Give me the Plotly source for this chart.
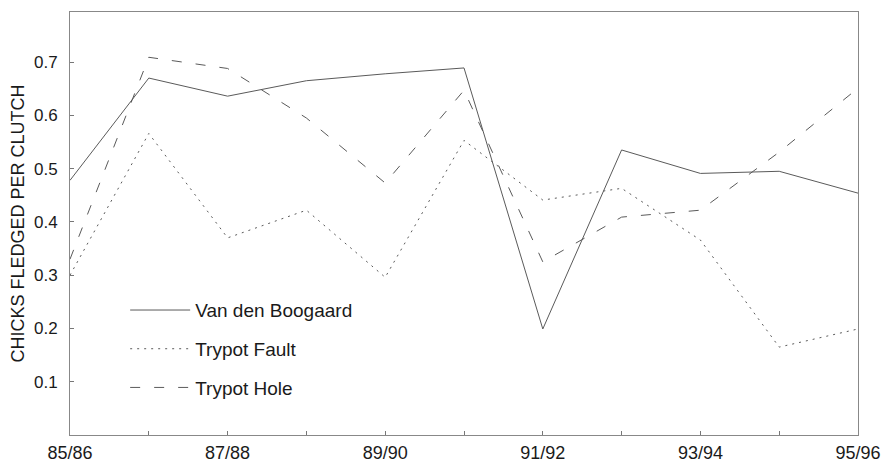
import plotly.graph_objects as go

seasons = ["85/86", "86/87", "87/88", "88/89", "89/90", "90/91",
           "91/92", "92/93", "93/94", "94/95", "95/96"]
van_den_boogaard = [0.478, 0.670, 0.636, 0.665, 0.678, 0.689,
                    0.199, 0.535, 0.491, 0.495, 0.454]
trypot_fault = [0.300, 0.566, 0.370, 0.422, 0.296, 0.553,
                0.441, 0.463, 0.366, 0.165, 0.199]
trypot_hole = [0.330, 0.709, 0.688, 0.595, 0.473, 0.647,
               0.325, 0.409, 0.422, 0.531, 0.651]
y_ticks = [0.1, 0.2, 0.3, 0.4, 0.5, 0.6, 0.7]

FONT = "Liberation Sans, Arial, sans-serif"
LINE = "#5a5a5a"

series = [
    ("Van den Boogaard", van_den_boogaard, "solid"),
    ("Trypot Fault", trypot_fault, "2px,5px"),
    ("Trypot Hole", trypot_hole, "10px,14px"),
]

fig = go.Figure()
for name, values, dash in series:
    fig.add_trace(
        go.Scatter(
            x=list(range(len(seasons))),
            y=values,
            name=name,
            legendgroup=name,
            mode="lines",
            line=dict(color=LINE, width=1, dash=dash),
        )
    )

fig.update_layout(
    width=881,
    height=471,
    margin=dict(l=70, r=23, t=12, b=36),
    paper_bgcolor="white",
    plot_bgcolor="white",
    font=dict(family=FONT, size=18, color="#1a1a1a"),
    showlegend=True,
    legend=dict(
        x=0.07,
        y=0.34,
        xanchor="left",
        yanchor="top",
        bgcolor="rgba(0,0,0,0)",
        tracegroupgap=11,
        itemwidth=60,
        font=dict(size=19),
    ),
)

fig.update_xaxes(
    range=[0, len(seasons) - 1],
    tickmode="array",
    tickvals=list(range(len(seasons))),
    ticktext=[s if i % 2 == 0 else "" for i, s in enumerate(seasons)],
    ticks="inside",
    ticklen=4,
    tickcolor="#777",
    ticklabelstandoff=1,
    automargin=False,
    showgrid=False,
    zeroline=False,
    showline=True,
    linewidth=1,
    linecolor="#888",
    mirror=True,
    tickfont=dict(size=18),
)
fig.update_yaxes(
    range=[0, 0.794],
    tickmode="array",
    tickvals=y_ticks,
    ticktext=[f"{v:.1f}" for v in y_ticks],
    ticks="inside",
    ticklen=4,
    tickcolor="#777",
    ticklabelstandoff=8,
    automargin=False,
    showgrid=False,
    zeroline=False,
    showline=True,
    linewidth=1,
    linecolor="#888",
    mirror=True,
    tickfont=dict(size=17),
    title=dict(text="CHICKS FLEDGED PER CLUTCH", font=dict(size=18), standoff=4),
)

# the page body has an 8px margin by default; pin the page to the figure size
page_fix = (
    "var h=document.documentElement, b=document.body;"
    "h.style.margin='0'; h.style.overflow='hidden'; h.style.height='471px';"
    "b.style.margin='0'; b.style.overflow='hidden'; b.style.height='471px';"
)
fig.write_html(
    "out.html",
    config={"displayModeBar": False},
    post_script=page_fix,
)
